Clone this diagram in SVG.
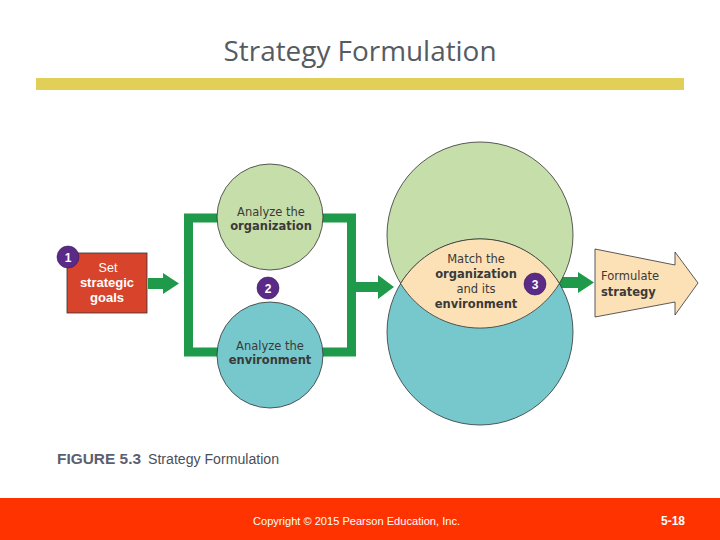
<svg xmlns="http://www.w3.org/2000/svg" width="720" height="540" viewBox="0 0 720 540">
<defs>
<style>
.t{font-family:"Liberation Sans",Arial,sans-serif;}
.ttl{font-family:"Open Sans","Liberation Sans",sans-serif;font-size:27px;fill:#555b63;text-anchor:middle;}
.lbl{font-family:"DejaVu Sans","Liberation Sans",sans-serif;font-size:11.5px;fill:#3a3a3a;text-anchor:middle;}
.b{font-weight:bold;}
.badge{fill:#5b2a86;stroke:#3a1a5a;stroke-width:0.6;}
.bt{font-family:"Liberation Sans",Arial,sans-serif;font-weight:bold;font-size:12px;fill:#fff;text-anchor:middle;}
.g{fill:#1e9a4a;}
.gl{stroke:#1e9a4a;stroke-width:9;fill:none;}
.edge{stroke:#333;stroke-width:0.8;}
</style>
</defs>
<rect width="720" height="540" fill="#fff"/>
<text class="ttl" x="360" y="61" textLength="273" lengthAdjust="spacingAndGlyphs">Strategy Formulation</text>
<rect x="36" y="78" width="648" height="12" fill="#e2cf57"/>

<g id="connectors">
<path class="gl" d="M228,218 H188.5 V352 H228"/>
<path class="gl" d="M312,218 H351.5 V352 H312"/>
<polygon class="g" points="148,278 163,278 163,273 179,283.5 163,294 163,289 148,289"/>
<polygon class="g" points="355,282 378,282 378,275 394,287 378,299 378,292 355,292"/>
<polygon class="g" points="559,277 578,277 578,272 594,282.5 578,293 578,288 559,288"/>
</g>

<g id="goals">
<rect x="67" y="253" width="80" height="60" fill="#d8432c" class="edge"/>
<text class="t" x="108" y="272" font-size="12.5" fill="#fff" text-anchor="middle">Set</text>
<text class="t b" x="107" y="287" font-size="13" fill="#fff" text-anchor="middle">strategic</text>
<text class="t b" x="107" y="302" font-size="13" fill="#fff" text-anchor="middle">goals</text>
<circle class="badge" cx="68" cy="257" r="11"/>
<text class="bt" x="68" y="261.5">1</text>
</g>

<g id="organization">
<circle cx="270" cy="217" r="53" fill="#c6deaa" class="edge"/>
<text class="lbl" x="271" y="216">Analyze the</text>
<text class="lbl b" x="271" y="230">organization</text>
</g>

<g id="environment">
<circle cx="270" cy="355" r="53" fill="#77c8cd" class="edge"/>
<text class="lbl" x="270" y="350">Analyze the</text>
<text class="lbl b" x="270" y="364">environment</text>
</g>
<g id="badge2">
<circle class="badge" cx="268" cy="288" r="11"/>
<text class="bt" x="268" y="292.5">2</text>
</g>

<g id="match">
<circle cx="480" cy="235" r="93" fill="#c6deaa" class="edge"/>
<circle cx="480" cy="332" r="93" fill="#77c8cd" class="edge"/>
<path d="M400.6,283.5 A93,93 0 0 1 559.4,283.5 A93,93 0 0 1 400.6,283.5 Z" fill="#fde1b6" class="edge"/>
<text class="lbl" x="476" y="263">Match the</text>
<text class="lbl b" x="476" y="278">organization</text>
<text class="lbl" x="476" y="293">and its</text>
<text class="lbl b" x="476" y="308">environment</text>
<circle class="badge" cx="535" cy="284" r="11"/>
<text class="bt" x="535" y="288.5">3</text>
</g>

<g id="strategy">
<polygon points="595,249 675,265 675,252 698,283 675,315 675,302 595,317" fill="#fde1b6" class="edge"/>
<text class="lbl" x="601" y="280" style="text-anchor:start">Formulate</text>
<text class="lbl b" x="601" y="296" style="text-anchor:start">strategy</text>
</g>

<g id="caption">
<text class="t b" x="57" y="464" font-size="15" fill="#5b6070" textLength="84" lengthAdjust="spacingAndGlyphs">FIGURE 5.3</text>
<text class="t" x="148" y="464" font-size="14" fill="#4a4f5a" textLength="131" lengthAdjust="spacingAndGlyphs">Strategy Formulation</text>
</g>

<rect x="0" y="498" width="720" height="42" fill="#ff3300"/>
<text class="t" x="253" y="525" font-size="11" fill="#fff" textLength="207" lengthAdjust="spacingAndGlyphs">Copyright © 2015 Pearson Education, Inc.</text>
<text class="t b" x="685" y="525" font-size="12" fill="#fff" text-anchor="end">5-18</text>
</svg>
